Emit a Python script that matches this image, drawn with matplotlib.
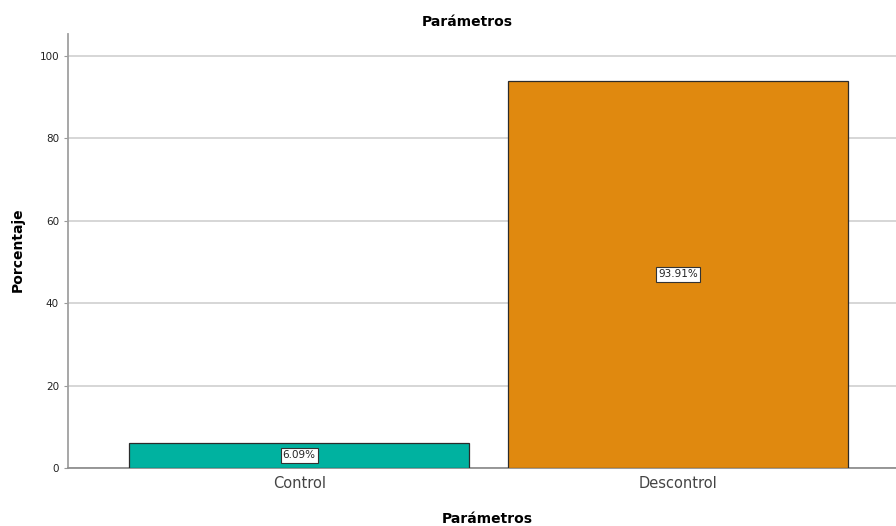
import matplotlib.pyplot as plt
import numpy as np

categories = ["Control", "Descontrol"]
percentages = [6.09, 93.91]
bar_colors = ["#00B2A0", "#E0890F"]
y_ticks = [0, 20, 40, 60, 80, 100]

fig = plt.figure(figsize=(8.96, 5.26), dpi=100)
ax = fig.add_axes([0.0759, 0.1103, 0.9241, 0.8251])

x = np.arange(len(categories))
bars = ax.bar(x, percentages, width=0.897, color=bar_colors,
              edgecolor="#2b2b2b", linewidth=0.9, zorder=3)

for bar, val in zip(bars, percentages):
    ax.text(bar.get_x() + bar.get_width() / 2, val / 2, f"{val:.2f}%",
            ha="center", va="center", fontsize=7.5, color="#222222", zorder=4,
            bbox=dict(boxstyle="square,pad=0.2", facecolor="white",
                      edgecolor="#333333", linewidth=0.8))

ax.set_xlim(-0.61, 1.575)
ax.set_ylim(0, 105.3)
ax.set_yticks(y_ticks)
ax.set_xticks(x)
ax.set_xticklabels(categories, fontsize=10.5, color="#444444")
ax.tick_params(axis="y", labelsize=7.5, length=3, color="#999999", labelcolor="#222222")
ax.tick_params(axis="x", length=0, pad=6)
ax.grid(axis="y", color="#d0d0d0", linewidth=1.2, zorder=0)

for side in ["top", "right"]:
    ax.spines[side].set_visible(False)
ax.spines["left"].set_color("#a0a0a0")
ax.spines["left"].set_linewidth(1.3)
ax.spines["bottom"].set_color("#909090")
ax.spines["bottom"].set_linewidth(1.3)

# axis titles placed in figure coordinates
fig.text(0.020, 0.525, "Porcentaje", rotation=90, ha="center", va="center",
         fontsize=10, fontweight="bold")
fig.text(0.544, 0.013, "Parámetros", ha="center", va="center",
         fontsize=10, fontweight="bold")
fig.text(0.521, 0.958, "Parámetros", ha="center", va="center",
         fontsize=10, fontweight="bold")

fig.savefig("out.png", dpi=100)
